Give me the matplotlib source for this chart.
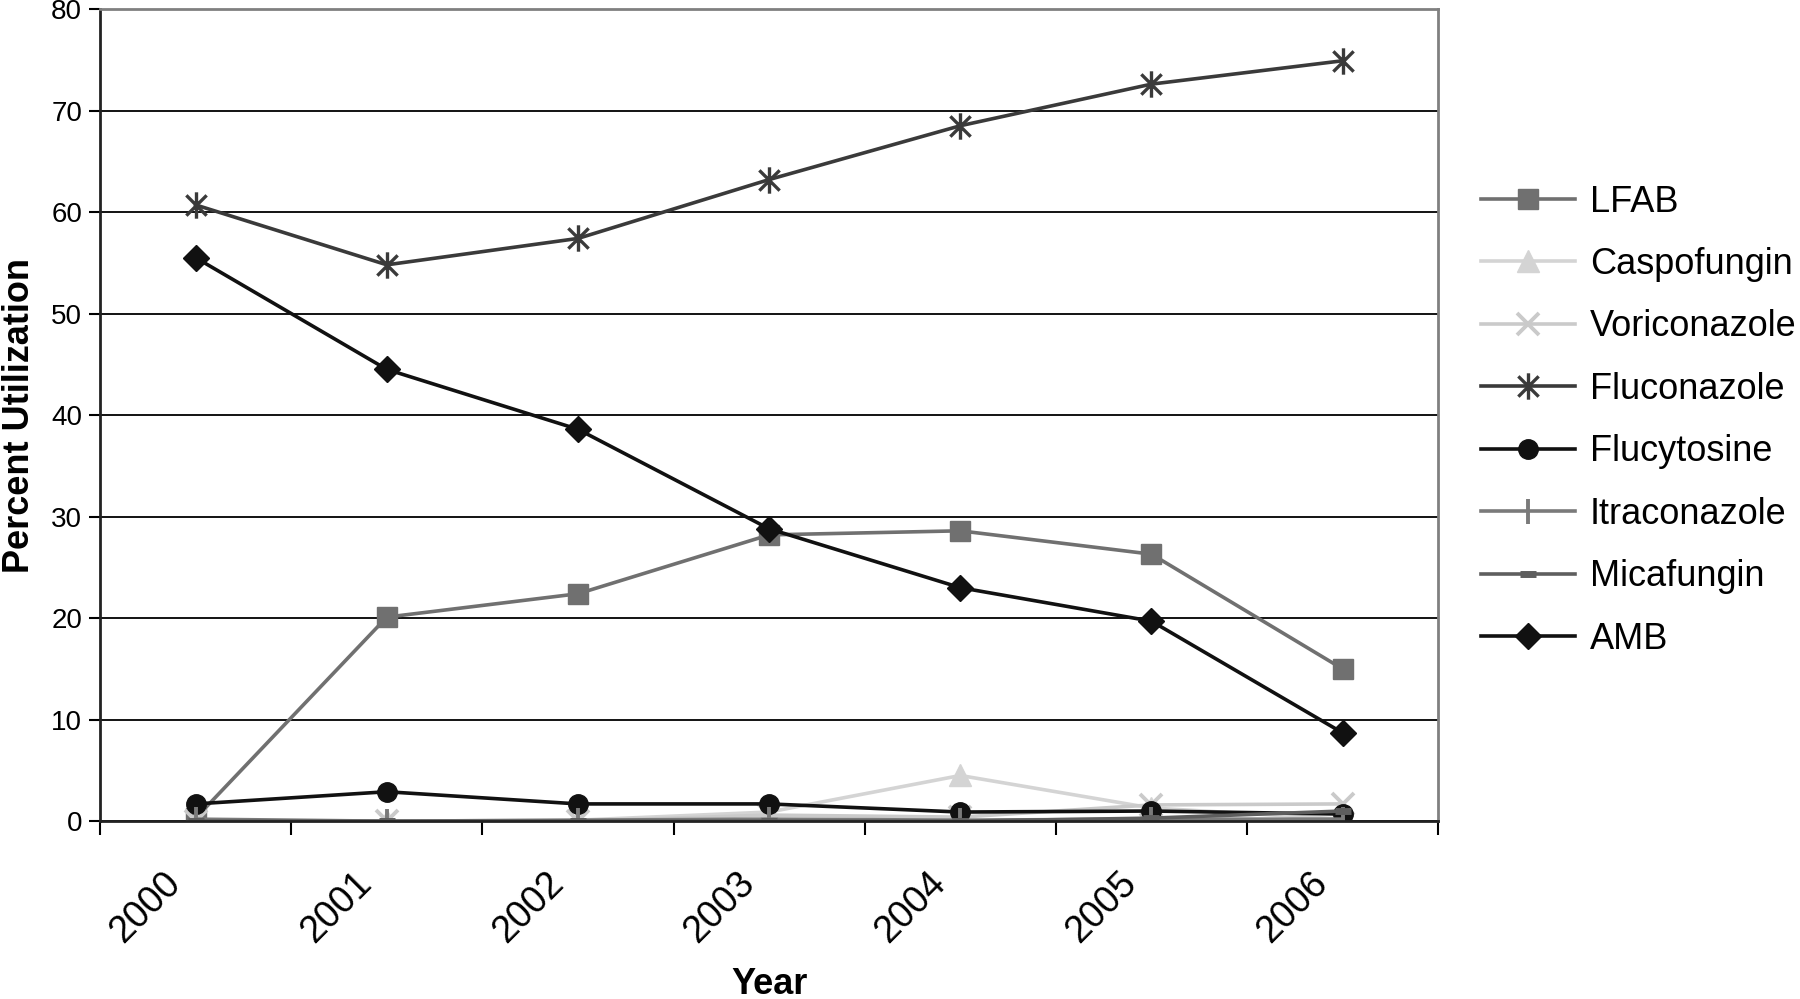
import numpy as np
import matplotlib
matplotlib.use("Agg")
import matplotlib.pyplot as plt
import matplotlib.transforms as mtrans
from matplotlib.path import Path

plt.rcParams["font.family"] = ["Liberation Sans", "DejaVu Sans"]

years = ["2000", "2001", "2002", "2003", "2004", "2005", "2006"]

lfab = [0.3, 20.1, 22.4, 28.2, 28.6, 26.3, 15.0]
caspofungin = [0.0, 0.0, 0.1, 0.9, 4.5, 1.3, 0.2]
voriconazole = [0.0, 0.0, 0.0, 0.6, 0.4, 1.6, 1.7]
fluconazole = [60.7, 54.8, 57.4, 63.2, 68.5, 72.6, 74.9]
flucytosine = [1.7, 2.9, 1.7, 1.7, 0.9, 1.0, 0.7]
itraconazole = [0.2, 0.0, 0.1, 0.2, 0.1, 0.2, 0.2]
micafungin = [0.0, 0.0, 0.0, 0.0, 0.0, 0.3, 1.0]
amb = [55.5, 44.5, 38.6, 28.8, 23.0, 19.7, 8.7]

# asterisk marker: x plus vertical bar
star = Path([(-1, -1), (1, 1), (-1, 1), (1, -1), (0, -1.3), (0, 1.3)],
            [Path.MOVETO, Path.LINETO, Path.MOVETO, Path.LINETO, Path.MOVETO, Path.LINETO])

series = [
    ("LFAB", lfab, dict(color="#707070", marker="s", ms=14)),
    ("Caspofungin", caspofungin, dict(color="#d4d4d4", marker="^", ms=16)),
    ("Voriconazole", voriconazole, dict(color="#cacaca", marker="x", ms=16, mew=2.8)),
    ("Fluconazole", fluconazole, dict(color="#3a3a3a", marker=star, ms=19, mew=2.4, mfc="none")),
    ("Flucytosine", flucytosine, dict(color="#111111", marker="o", ms=14)),
    ("Itraconazole", itraconazole, dict(color="#7a7a7a", marker="|", ms=18, mew=2.8)),
    ("Micafungin", micafungin, dict(color="#5e5e5e", marker="_", ms=11, mew=5)),
    ("AMB", amb, dict(color="#111111", marker="D", ms=13)),
]

fig = plt.figure(figsize=(18, 9.99), dpi=100)
ax = fig.add_axes([0.0556, 0.178, 0.7434, 0.813])

x = np.arange(len(years))
for name, vals, st in series:
    ax.plot(x, vals, label=name, lw=2.6, **st)

ax.set_xlim(-0.5, len(years) - 0.5)
ax.set_ylim(0, 80)
ax.set_yticks(np.arange(0, 81, 10))
ax.yaxis.grid(True, color="black", lw=1.3)
ax.set_axisbelow(True)

ax.set_xticks(x)
ax.set_xticklabels(years, rotation=45, ha="right", rotation_mode="anchor", fontsize=27)
ax.set_xticks(np.arange(-0.5, len(years)), minor=True)
ax.tick_params(axis="x", which="major", length=0, pad=32)
ax.tick_params(axis="x", which="minor", length=10, width=1.5, direction="out")
ax.tick_params(axis="y", labelsize=20, length=8, width=1.5, pad=5)

# nudge the rotated year labels to the left, like the original
shift = mtrans.ScaledTranslation(-0.33, 0, fig.dpi_scale_trans)
for lab in ax.get_xticklabels():
    lab.set_transform(lab.get_transform() + shift)

for s in ["top", "right"]:
    ax.spines[s].set_color("#808080")
    ax.spines[s].set_linewidth(2)
for s in ["left", "bottom"]:
    ax.spines[s].set_color("#222222")
    ax.spines[s].set_linewidth(2)

ax.set_xlabel("Year", fontsize=26, fontweight="bold", labelpad=12)
ax.set_ylabel("Percent Utilization", fontsize=26, fontweight="bold", labelpad=10)

ax.legend(loc="center left", bbox_to_anchor=(0.823, 0.579), bbox_transform=fig.transFigure,
          frameon=False, fontsize=26, handlelength=2.6, handletextpad=0.4,
          labelspacing=0.76, borderpad=0, borderaxespad=0)

fig.savefig("out.png", dpi=100)
